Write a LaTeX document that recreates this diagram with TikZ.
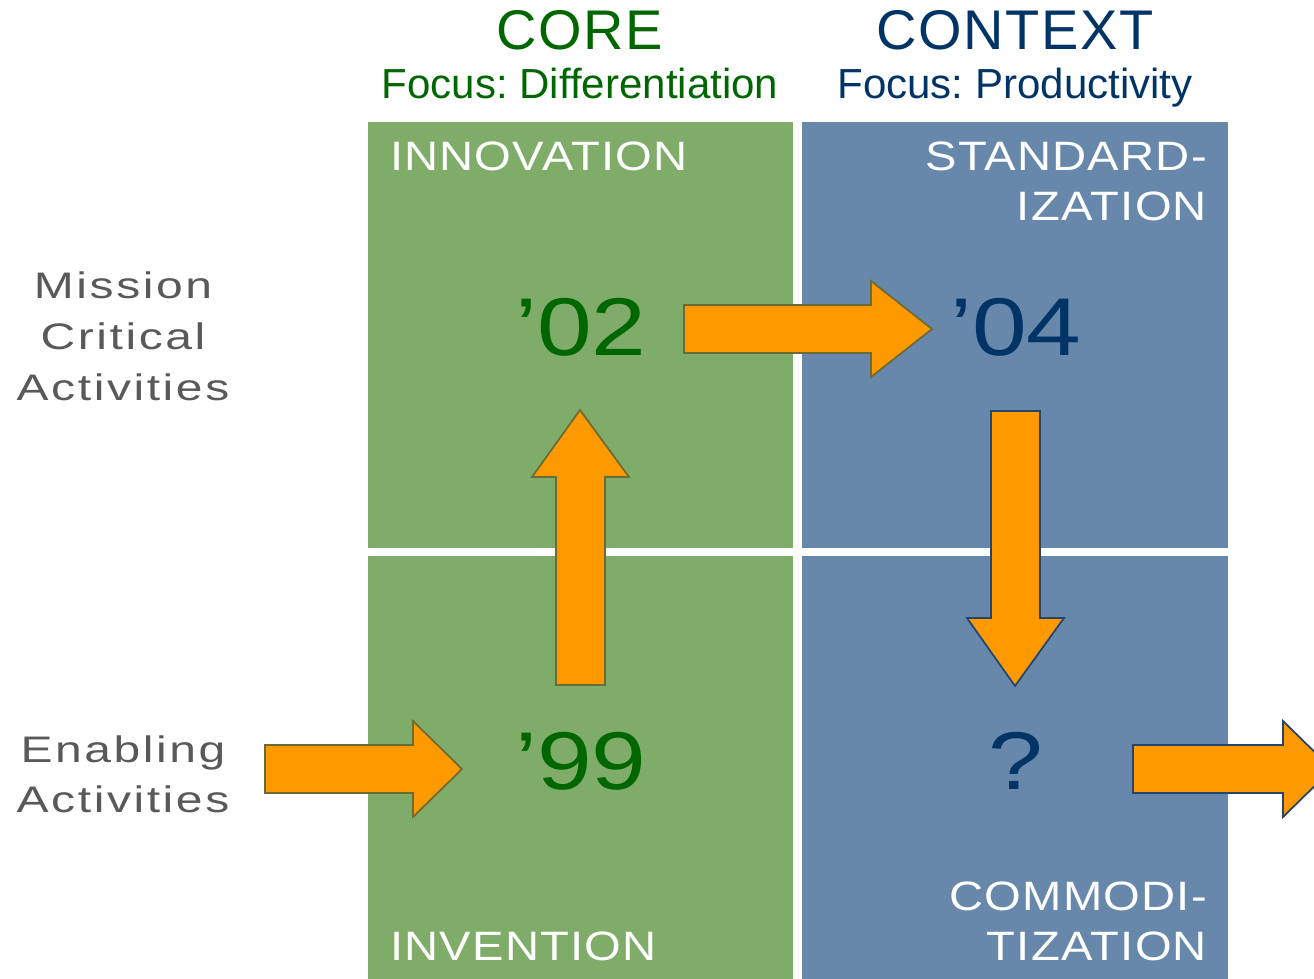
\documentclass[tikz,border=0pt]{standalone}
\usepackage{fontspec}
\setmainfont{Liberation Sans}
\newfontfamily\headfont[LetterSpace=3]{Liberation Sans}
\newfontfamily\quadfont[FakeStretch=1.15,LetterSpace=3]{Liberation Sans}
\newfontfamily\rowfont[FakeStretch=1.3,LetterSpace=7]{Liberation Sans}
\newfontfamily\yearfont[FakeStretch=1.2,LetterSpace=0]{Liberation Sans}
\definecolor{coregreen}{HTML}{80AC69}
\definecolor{contextblue}{HTML}{6788AB}
\definecolor{darkgreen}{HTML}{006600}
\definecolor{darkblue}{HTML}{003366}
\definecolor{rowgray}{HTML}{595959}
\definecolor{arroworange}{HTML}{FF9900}
\definecolor{oliveline}{HTML}{6B6B35}
\definecolor{blueline}{HTML}{24466E}

\begin{document}
\frenchspacing
\begin{tikzpicture}[x=0.01cm,y=-0.01cm,
					every node/.style={inner sep=0pt, outer sep=0pt},
					headnode/.style={anchor=base, font=\headfont\fontsize{15.9}{19}\selectfont},
					focusnode/.style={anchor=base, font=\fontsize{11.95}{14}\selectfont},
					quadnode/.style={text=white, font=\quadfont\fontsize{11.67}{14}\selectfont},
					rownode/.style={anchor=base, text=rowgray, font=\rowfont\fontsize{10.5}{14}\selectfont},
					yearnode/.style={anchor=base, font=\yearfont\fontsize{23.3}{28}\selectfont},
					greenarrow/.style={fill=arroworange, draw=oliveline, line width=0.5pt, line join=miter},
					bluearrow/.style={fill=arroworange, draw=blueline, line width=0.5pt, line join=miter},
					]
					\useasboundingbox (0,0) rectangle (1314,979);
					\clip (0,0) rectangle (1314,979);
					%Panels
					\fill[coregreen]   (368,122) rectangle (793,548);
					\fill[coregreen]   (368,556) rectangle (793,979);
					\fill[contextblue] (802,122) rectangle (1228,548);
					\fill[contextblue] (802,556) rectangle (1228,979);

					%Headings
					\node[headnode, text=darkgreen]  (core)     at (580,50)  {CORE};
					\node[focusnode, text=darkgreen] (corefoc)  at (580,99)  {Focus: Differentiation};
					\node[headnode, text=darkblue]   (context)  at (1015,50) {CONTEXT};
					\node[focusnode, text=darkblue]  (contfoc)  at (1015,99) {Focus: Productivity};

					%Rows
					\node[rownode] (mission)  at (123,299) {Mission};
					\node[rownode] (critical) at (123,350) {Critical};
					\node[rownode] (activ1)   at (123,401) {Activities};
					\node[rownode] (enabling) at (123,762) {Enabling};
					\node[rownode] (activ2)   at (123,813) {Activities};

					%Quadrant labels
					\node[quadnode, anchor=base west] (innov)  at (390,171)  {INNOVATION};
					\node[quadnode, anchor=base east] (stand1) at (1207,171) {STANDARD-};
					\node[quadnode, anchor=base east] (stand2) at (1207,221) {IZATION};
					\node[quadnode, anchor=base west] (invent) at (390,960)  {INVENTION};
					\node[quadnode, anchor=base east] (comm1)  at (1207,910) {COMMODI-};
					\node[quadnode, anchor=base east] (comm2)  at (1207,960) {TIZATION};

					%Years
					\node[yearnode, text=darkgreen] (y02) at (581,356) {’02};
					\node[yearnode, text=darkblue]  (y04) at (1016,356) {’04};
					\node[yearnode, text=darkgreen] (y99) at (581,790) {’99};
					\node[yearnode, text=darkblue]  (yq)  at (1016,790) {?};

					%Arrows
					\draw[greenarrow] (265,745) -- (413,745) -- (413,721) -- (462,769) -- (413,817) -- (413,793) -- (265,793) -- cycle;
					\draw[greenarrow] (556,685) -- (556,477) -- (532,477) -- (580,410) -- (629,477) -- (605,477) -- (605,685) -- cycle;
					\draw[greenarrow] (684,305) -- (871,305) -- (871,281) -- (932,329) -- (871,377) -- (871,353) -- (684,353) -- cycle;
					\draw[bluearrow] (991,411) -- (1040,411) -- (1040,618) -- (1064,618) -- (1015,686) -- (967,618) -- (991,618) -- cycle;
					\draw[bluearrow] (1133,745) -- (1283,745) -- (1283,721) -- (1332,769) -- (1283,817) -- (1283,793) -- (1133,793) -- cycle;
\end{tikzpicture}
\end{document}
